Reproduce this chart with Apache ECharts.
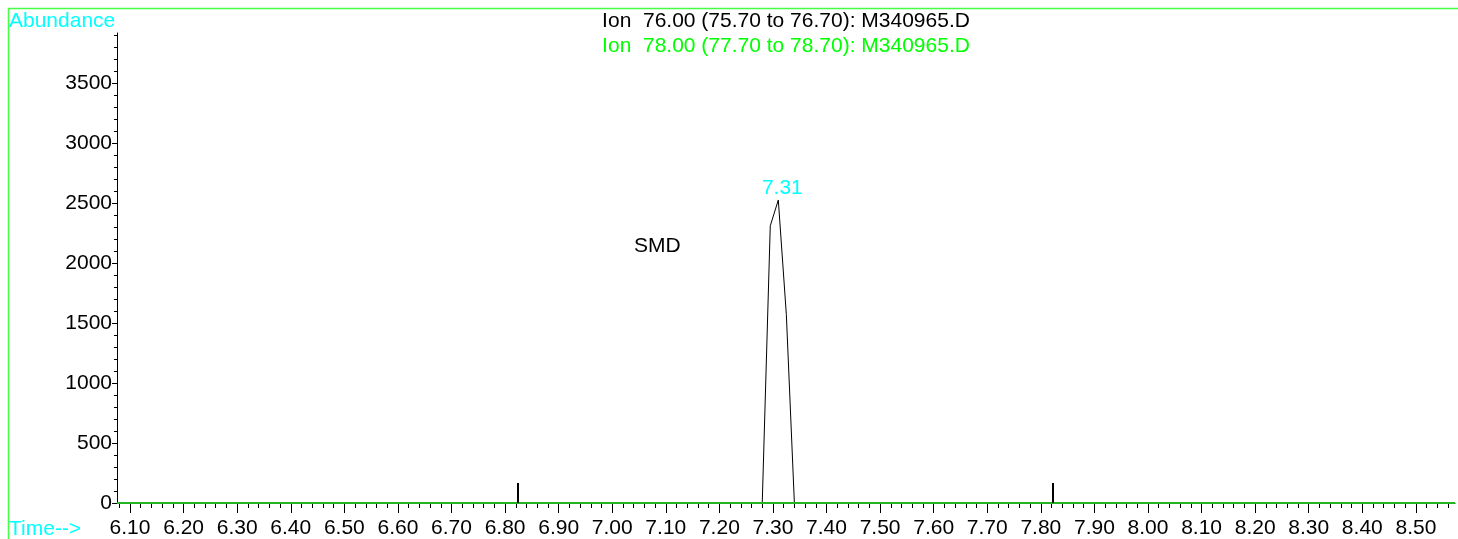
<!DOCTYPE html>
<html>
<head>
<meta charset="utf-8">
<script src="https://cdn.jsdelivr.net/npm/echarts@6/dist/echarts.min.js"></script>
<style>html,body{margin:0;padding:0;background:#fff}#c{width:1458px;height:539px}</style>
</head>
<body>
<div id="c"></div>
<script>
// ---- data ----
const ion76Time = [6.0757, 7.280, 7.295, 7.310, 7.325, 7.340, 8.573];
const ion76Abundance = [0, 0, 2310, 2525, 1570, 0, 0];
const ion78Time = [6.0757, 8.573];
const ion78Abundance = [0, 0];
const xTickLabels = ['6.10','6.20','6.30','6.40','6.50','6.60','6.70','6.80','6.90','7.00','7.10','7.20','7.30','7.40','7.50','7.60','7.70','7.80','7.90','8.00','8.10','8.20','8.30','8.40','8.50'];
const yTickLabels = ['0','500','1000','1500','2000','2500','3000','3500'];
const integrationMarks = [6.823, 7.823];
const integrationMarkHeight = 167;
const peakTime = [7.31];
const peakAbundance = [2525];
const peakText = ['7.31'];
const compoundTime = [7.084];
const compoundAbundance = [2142];
const compoundText = ['SMD'];
const titleLines = ['Ion  76.00 (75.70 to 76.70): M340965.D', 'Ion  78.00 (77.70 to 78.70): M340965.D'];
const xMin = 6.0757, xMax = 8.573, yMin = 0, yMax = 3917;

// minor tick positions
const xMinor = [];
for (let i = 304; i <= 428; i++) xMinor.push(+(i * 0.02).toFixed(2));
const yMinor = [];
for (let i = 0; i <= 39; i++) yMinor.push(i * 100);

const FONT = 'Liberation Sans, Arial, sans-serif';
const FS = 21;
const chart = echarts.init(document.getElementById('c'), null, {renderer: 'canvas'});
const toPairs = (xs, ys) => xs.map((x, i) => [x, ys[i]]);
const tStyle = c => ({color: c, fontSize: FS, fontWeight: 'normal', fontFamily: FONT});

chart.setOption({
  animation: false,
  backgroundColor: '#ffffff',
  textStyle: {fontFamily: FONT},
  title: [
    {text: titleLines[0], left: 786, top: 11, padding: 0, textAlign: 'center', textStyle: tStyle('#000000')},
    {text: titleLines[1], left: 786, top: 36, padding: 0, textAlign: 'center', textStyle: tStyle('#00ff00')},
    {text: 'Abundance', left: 9, top: 11, padding: 0, textStyle: tStyle('#00ffff')},
    {text: 'Time-->', left: 9, top: 519, padding: 0, textStyle: tStyle('#00ffff')}
  ],
  graphic: [{
    type: 'rect', z: -1, silent: true,
    shape: {x: 8.5, y: 8.5, width: 1470, height: 560},
    style: {fill: null, stroke: '#44ff44', lineWidth: 1.5}
  }],
  grid: {left: 117, right: 3, top: 33, bottom: 36, containLabel: false},
  xAxis: [{
    type: 'value', min: xMin, max: xMax,
    axisLine: {show: true, lineStyle: {color: '#000', width: 1}},
    axisTick: {show: true, length: 10, customValues: xTickLabels.map(Number), lineStyle: {color: '#000'}},
    axisLabel: {show: true, customValues: xTickLabels.map(Number), formatter: v => v.toFixed(2),
      color: '#000', fontSize: FS, fontFamily: FONT, margin: 15},
    splitLine: {show: false}
  }, {
    type: 'value', min: xMin, max: xMax, position: 'bottom',
    axisLine: {show: false},
    axisTick: {show: true, length: 5, customValues: xMinor, lineStyle: {color: '#000'}},
    axisLabel: {show: false},
    splitLine: {show: false}
  }],
  yAxis: [{
    type: 'value', min: yMin, max: yMax,
    axisLine: {show: true, lineStyle: {color: '#000', width: 1}},
    axisTick: {show: true, length: 5, customValues: yTickLabels.map(Number), lineStyle: {color: '#000'}},
    axisLabel: {show: true, customValues: yTickLabels.map(Number), formatter: v => String(v),
      color: '#000', fontSize: FS, fontFamily: FONT, margin: 5},
    splitLine: {show: false}
  }, {
    type: 'value', min: yMin, max: yMax, position: 'left',
    axisLine: {show: false},
    axisTick: {show: true, length: 3, customValues: yMinor, lineStyle: {color: '#000'}},
    axisLabel: {show: false},
    splitLine: {show: false}
  }],
  series: [
    {
      name: 'Ion 76', type: 'line', data: toPairs(ion76Time, ion76Abundance),
      showSymbol: false, symbol: 'none', lineStyle: {color: '#000000', width: 1}, z: 3,
      markLine: {
        silent: true, symbol: ['none', 'none'], label: {show: false},
        lineStyle: {color: '#000000', width: 2, type: 'solid'},
        data: integrationMarks.map(t => [{coord: [t, 0]}, {coord: [t, integrationMarkHeight]}])
      },
      markPoint: {
        silent: true, symbol: 'circle', symbolSize: 0,
        label: {show: true, position: 'top', distance: 1, offset: [4, 0], formatter: p => p.name,
          color: '#00ffff', fontSize: FS, fontFamily: FONT, textBorderWidth: 0},
        data: peakTime.map((t, i) => ({coord: [t, peakAbundance[i]], name: peakText[i]}))
      }
    },
    {
      name: 'Ion 78', type: 'line', data: toPairs(ion78Time, ion78Abundance),
      showSymbol: false, symbol: 'none', lineStyle: {color: '#22b422', width: 2}, z: 4
    },
    {
      name: 'label', type: 'scatter', symbolSize: 0, silent: true,
      itemStyle: {opacity: 1},
      data: compoundTime.map((t, i) => ({value: [t, compoundAbundance[i]], name: compoundText[i]})),
      label: {show: true, position: 'inside', formatter: p => p.name, color: '#000000', opacity: 1,
        fontSize: FS, fontFamily: FONT, textBorderWidth: 0, textBorderColor: 'transparent'}
    }
  ]
});
</script>
</body>
</html>
